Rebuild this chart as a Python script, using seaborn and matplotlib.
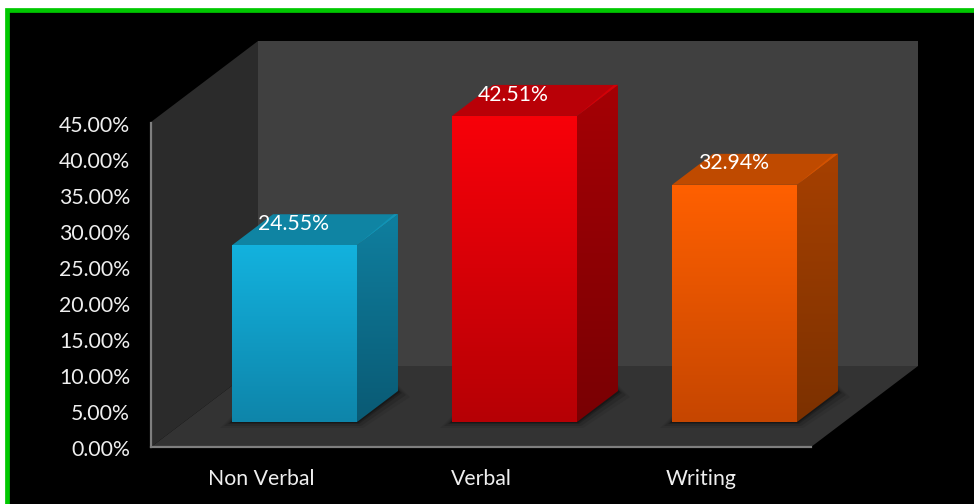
import numpy as np
import pandas as pd
import seaborn as sns
import matplotlib.pyplot as plt
from matplotlib.colors import LinearSegmentedColormap
from matplotlib.patches import Polygon, Rectangle
from matplotlib.transforms import Affine2D

categories = ["Non Verbal", "Verbal", "Writing"]
scores = [24.55, 42.51, 32.94]
score_labels = ["24.55%", "42.51%", "32.94%"]
y_ticks = [0, 5, 10, 15, 20, 25, 30, 35, 40, 45]

front_colors = [("#13b2de", "#0e85aa"), ("#f80009", "#b60005"), ("#ff6000", "#c64600")]
side_colors = [("#0f7f9f", "#0a5a74"), ("#a50005", "#790003"), ("#a64000", "#7c3100")]
top_colors = ["#0f84a3", "#b90007", "#bf4a00"]
edge_colors = ["#1193b5", "#d40007", "#d45200"]

W, H = 974, 504
DEPTH_X, DEPTH_Y = 41, 31
SHIFT_X, SHIFT_Y = 33.5, 25

sns.set_theme(style="white")
plt.rcParams["font.family"] = ["Lato", "DejaVu Sans"]

fig = plt.figure(figsize=(W / 100, H / 100), dpi=100, facecolor="white")
# everything decorative is placed in image pixels, y going down
px = Affine2D().scale(1, -1).translate(0, H)

ax = fig.add_axes([151 / W, (H - 447) / H, 660 / W, 324 / H])
ax.patch.set_alpha(0)


def backdrop(points, color):
    fig.add_artist(Polygon(points, closed=True, facecolor=color, edgecolor="none",
                           transform=px, zorder=-1))


def poly(points, color, zorder=1, alpha=1.0):
    ax.add_patch(Polygon(points, closed=True, facecolor=color, edgecolor="none",
                         transform=px, zorder=zorder, alpha=alpha, clip_on=False))


def gradient(points, c_top, c_bottom, zorder):
    xs = [p[0] for p in points]
    ys = [p[1] for p in points]
    cmap = LinearSegmentedColormap.from_list("g", [c_top, c_bottom])
    im = ax.imshow(np.linspace(0, 1, 128).reshape(-1, 1), cmap=cmap, aspect="auto",
                   extent=(min(xs), max(xs), max(ys), min(ys)), transform=px, zorder=zorder)
    im.set_clip_path(Polygon(points, closed=True, transform=px))
    im.set_clip_box(fig.bbox)


# frame: only the top and left edges fall inside the picture
fig.add_artist(Rectangle((7, 10), 1000, 600, facecolor="black", edgecolor="#00c800",
                         linewidth=3.4, transform=px, zorder=-2))

# walls and floor
backdrop([(258, 41), (918, 41), (918, 366), (258, 366)], "#404040")
backdrop([(151, 122), (258, 41), (258, 366), (151, 447)], "#2b2b2b")
backdrop([(151, 447), (258, 366), (918, 366), (811, 447)], "#333333")

df = pd.DataFrame({"category": categories, "score": scores})
sns.barplot(data=df, x="category", y="score", hue="category", palette=[c[0] for c in front_colors],
            width=0.568, legend=False, ax=ax, zorder=3)

ax.set_xlim(-0.5, 2.5)
ax.set_ylim(0, 45)
ax.set_xlabel("")
ax.set_ylabel("")
ax.set_yticks(y_ticks)
ax.set_yticklabels([f"{t:.2f}%" for t in y_ticks], fontsize=15.3, color="#efefef")
ax.tick_params(axis="y", length=0, pad=15)
ax.tick_params(axis="x", length=0, pad=15.5, labelsize=15.3, labelcolor="#efefef")
for lbl in ax.get_yticklabels():
    lbl.set_transform(lbl.get_transform() + Affine2D().translate(0, -1))
for side in ["top", "right"]:
    ax.spines[side].set_visible(False)
for side in ["left", "bottom"]:
    ax.spines[side].set_color("#7f7f7f")
    ax.spines[side].set_linewidth(1.6)

to_display = ax.transData
push_back = Affine2D().translate(SHIFT_X, SHIFT_Y)
for i, bar in enumerate(ax.patches):
    (x0, y0) = to_display.transform((bar.get_x(), 0))
    (x1, y1) = to_display.transform((bar.get_x() + bar.get_width(), bar.get_height()))
    # display -> image pixels, pushed back onto the floor
    left, right = x0 + SHIFT_X, x1 + SHIFT_X
    base, top = H - y0 - SHIFT_Y, H - y1 - SHIFT_Y
    bar.set_transform(ax.transData + push_back)
    bar.set_clip_on(False)
    bar.set_edgecolor("none")

    # soft shadow on the floor
    for grow, a in [(12, 0.07), (8, 0.12), (4, 0.18), (2, 0.25)]:
        poly([(left - grow, base + grow / 2), (right + grow / 2, base + grow / 2),
              (right + DEPTH_X + grow, base - DEPTH_Y + grow / 2),
              (right + DEPTH_X, base - DEPTH_Y - grow / 2), (left, base - grow / 2)],
             "black", zorder=2, alpha=a)

    front = [(left, top), (right, top), (right, base), (left, base)]
    side = [(right, top), (right + DEPTH_X, top - DEPTH_Y),
            (right + DEPTH_X, base - DEPTH_Y), (right, base)]
    lid = [(left, top), (left + DEPTH_X, top - DEPTH_Y),
           (right + DEPTH_X, top - DEPTH_Y), (right, top)]
    gradient(side, side_colors[i][0], side_colors[i][1], 3)
    poly(lid, top_colors[i], zorder=3.1)
    # lighter bevel along the diagonal edge of the lid
    poly([(right, top), (right + DEPTH_X - 4, top - DEPTH_Y), (right + DEPTH_X, top - DEPTH_Y)],
         edge_colors[i], zorder=3.15)
    gradient(front, front_colors[i][0], front_colors[i][1], 3.2)

    ax.annotate(score_labels[i], xy=(bar.get_x() + bar.get_width() / 2, bar.get_height()),
                xytext=(23.4, 33.4), textcoords="offset points", ha="center", va="center",
                fontsize=15.3, color="white", zorder=5, annotation_clip=False)

ax.set_xlim(-0.5, 2.5)
ax.set_ylim(0, 45)

plt.savefig("out.png", dpi=100, facecolor=fig.get_facecolor())
